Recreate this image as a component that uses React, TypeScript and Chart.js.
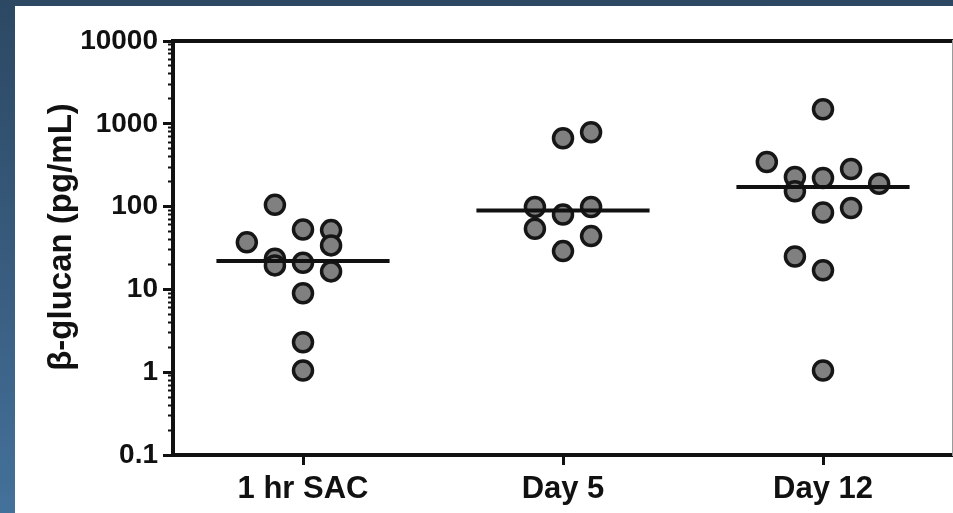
import React, { useEffect, useRef } from 'react';
import { Chart, registerables } from 'chart.js';

Chart.register(...registerables);

// Group labels on the x axis
const categories = ['1 hr SAC', 'Day 5', 'Day 12'];

// Values (pg/mL) and the jitter column of each dot
const sacValues = [105, 53, 52, 37, 34, 23.5, 19.5, 21, 16.5, 9, 2.3, 1.05];
const sacColumns = [-1, 0, 1, -2, 1, -1, -1, 0, 1, 0, 0, 0];
const day5Values = [670, 790, 99, 99, 80, 54, 44, 29];
const day5Columns = [0, 1, -1, 1, 0, -1, 1, 0];
const day12Values = [1500, 345, 285, 228, 222, 189, 153, 85, 96, 25, 17, 1.05];
const day12Columns = [0, -2, 1, -1, 0, 2, -1, 0, 1, -1, 0, 0];

// Median bar of each group
const medians = [22, 90, 172];

const yTickValues = [0.1, 1, 10, 100, 1000, 10000];
const yTickLabels = ['0.1', '1', '10', '100', '1000', '10000'];
const yTitle = 'β-glucan (pg/mL)';

const JITTER = 0.108;
const MEDIAN_HALF = 0.333;
const FONT = '"Liberation Sans", Arial, Helvetica, sans-serif';
const INK = '#111111';

const minorTicks = yTickValues.slice(0, -1).flatMap((d) =>
  [2, 3, 4, 5, 6, 7, 8, 9].map((m) => m * d)
);

const groups = [
  { values: sacValues, columns: sacColumns },
  { values: day5Values, columns: day5Columns },
  { values: day12Values, columns: day12Columns },
];

const yTitlePlugin = {
  id: 'yTitle',
  afterDraw(chart: any) {
    const { ctx, chartArea } = chart;
    ctx.save();
    ctx.translate(47, (chartArea.top + chartArea.bottom) / 2 - 11);
    ctx.rotate(-Math.PI / 2);
    ctx.font = `bold 33px ${FONT}`;
    ctx.fillStyle = INK;
    ctx.textAlign = 'center';
    ctx.textBaseline = 'middle';
    ctx.fillText(yTitle, 0, 0);
    ctx.restore();
  },
};

export default function App() {
  const canvasRef = useRef<HTMLCanvasElement>(null);

  useEffect(() => {
    document.body.style.margin = '0';
    if (!canvasRef.current) return;

    const dotSets = groups.map((g, gi) => ({
      type: 'scatter' as const,
      data: g.values.map((v, i) => ({ x: gi + g.columns[i] * JITTER, y: v })),
      pointRadius: 9.5,
      pointHoverRadius: 9.5,
      pointBackgroundColor: '#808080',
      pointBorderColor: '#161616',
      pointBorderWidth: 3.5,
      order: 1,
    }));

    const medianSets = medians.map((m, gi) => ({
      type: 'line' as const,
      data: [
        { x: gi - MEDIAN_HALF, y: m },
        { x: gi + MEDIAN_HALF, y: m },
      ],
      borderColor: INK,
      borderWidth: 4,
      pointRadius: 0,
      fill: false,
      order: 0,
    }));

    const chart = new Chart(canvasRef.current, {
      type: 'scatter',
      data: { datasets: [...dotSets, ...medianSets] as any },
      plugins: [yTitlePlugin],
      options: {
        animation: false,
        responsive: true,
        maintainAspectRatio: false,
        layout: { autoPadding: false, padding: { top: 35, left: 0, right: 0, bottom: 0 } },
        plugins: {
          legend: { display: false },
          tooltip: { enabled: false },
        },
        scales: {
          x: {
            type: 'linear',
            position: 'bottom',
            min: -0.5,
            max: 2.5,
            afterBuildTicks: (scale: any) => {
              scale.ticks = categories.map((_, i) => ({ value: i }));
            },
            afterFit: (scale: any) => {
              scale.height = 58;
            },
            ticks: {
              autoSkip: false,
              maxRotation: 0,
              padding: 6,
              color: INK,
              font: { family: FONT, size: 31, weight: 'bold' },
              callback: (value: any) => categories[value as number] ?? '',
            },
            grid: {
              display: true,
              drawOnChartArea: false,
              drawTicks: true,
              tickLength: 10,
              tickWidth: 3,
              tickColor: INK,
            },
            border: { display: true, color: INK, width: 4 },
          },
          xTop: {
            type: 'linear',
            position: 'top',
            afterFit: (scale: any) => {
              scale.height = 0;
            },
            ticks: { display: false },
            grid: { display: false },
            border: { display: true, color: INK, width: 4 },
          },
          y: {
            type: 'logarithmic',
            position: 'left',
            weight: 1,
            min: 0.1,
            max: 10000,
            afterBuildTicks: (scale: any) => {
              scale.ticks = yTickValues.map((v) => ({ value: v, major: true }));
            },
            afterFit: (scale: any) => {
              scale.width = 158;
            },
            ticks: {
              autoSkip: false,
              padding: 5,
              color: INK,
              font: { family: FONT, size: 28, weight: 'bold' },
              callback: (value: any) => {
                const i = yTickValues.indexOf(value as number);
                return i >= 0 ? yTickLabels[i] : '';
              },
            },
            grid: {
              display: true,
              drawOnChartArea: false,
              drawTicks: true,
              tickLength: 10,
              tickWidth: 3,
              tickColor: INK,
            },
            border: { display: true, color: INK, width: 4 },
          },
          yMinor: {
            type: 'logarithmic',
            position: 'left',
            weight: 0,
            min: 0.1,
            max: 10000,
            afterBuildTicks: (scale: any) => {
              scale.ticks = minorTicks.map((v) => ({ value: v }));
            },
            afterFit: (scale: any) => {
              scale.width = 0;
            },
            ticks: { display: false },
            grid: {
              display: true,
              drawOnChartArea: false,
              drawTicks: true,
              tickLength: 5,
              tickWidth: 2,
              tickColor: INK,
            },
            border: { display: false },
          },
          yRight: {
            type: 'linear',
            position: 'right',
            afterFit: (scale: any) => {
              scale.width = 0;
            },
            ticks: { display: false },
            grid: { display: false },
            border: { display: true, color: '#9a9a9a', width: 2 },
          },
        },
      } as any,
    });

    return () => {
      chart.destroy();
    };
  }, []);

  return (
    <div
      style={{
        position: 'relative',
        width: 953,
        height: 513,
        background: 'linear-gradient(180deg, #2c4863 0%, #395d80 55%, #44719a 100%)',
      }}
    >
      <div
        style={{
          position: 'absolute',
          left: 15,
          top: 6,
          width: 938,
          height: 507,
          background: '#ffffff',
        }}
      >
        <canvas ref={canvasRef} />
      </div>
    </div>
  );
}
